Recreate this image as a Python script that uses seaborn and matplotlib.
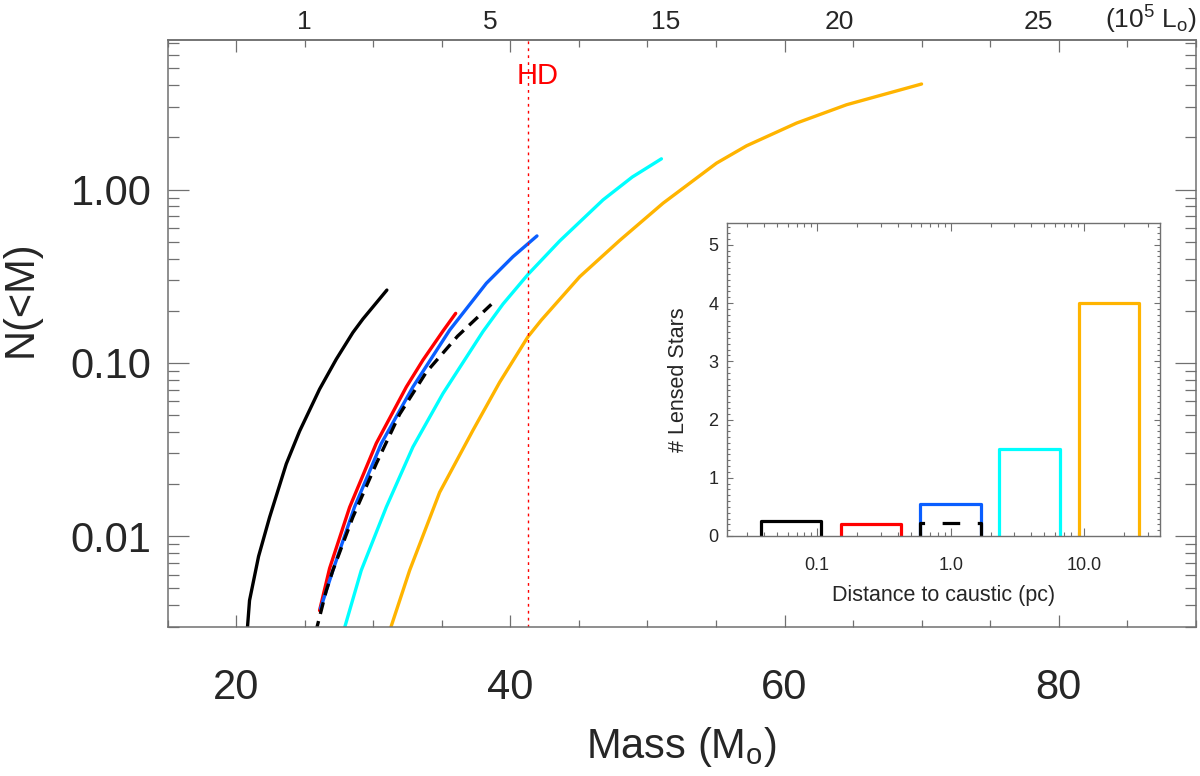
import numpy as np
import pandas as pd
import matplotlib
matplotlib.use("Agg")
import matplotlib.pyplot as plt
from matplotlib.ticker import MultipleLocator, LogLocator, NullFormatter, NullLocator
import seaborn as sns

# cumulative number of stars below a given mass, per model
black_m = [20.79, 20.97, 21.63, 22.43, 23.65, 24.62, 26.08, 27.30, 28.51, 29.24, 30.99]
black_n = [0.00277, 0.00425, 0.00764, 0.01282, 0.0261, 0.0403, 0.0705, 0.1050, 0.1496,
           0.179, 0.263]

red_m = [26.08, 26.81, 28.27, 30.22, 32.41, 33.62, 35.08, 36.01]
red_n = [0.00372, 0.00651, 0.01466, 0.03436, 0.0726, 0.1037, 0.1525, 0.193]

blue_m = [26.15, 27.05, 28.63, 30.58, 32.89, 35.57, 38.25, 40.19, 41.94]
blue_n = [0.00382, 0.00634, 0.01472, 0.0342, 0.0726, 0.1545, 0.288, 0.410, 0.540]

dash_m = [25.79, 26.57, 27.05, 28.51, 30.22, 31.92, 33.87, 36.15, 38.61]
dash_n = [0.00277, 0.00485, 0.00634, 0.01288, 0.02622, 0.0505, 0.0884, 0.1426, 0.2176]

cyan_m = [27.80, 29.12, 30.95, 32.89, 35.08, 38.0, 39.46, 41.28, 43.60, 46.76, 48.89,
          51.02]
cyan_n = [0.00277, 0.00634, 0.01472, 0.03269, 0.0665, 0.1515, 0.2184, 0.3235, 0.5052,
          0.8719, 1.181, 1.505]

orange_m = [31.15, 32.65, 34.84, 37.27, 39.22, 41.28, 42.26, 45.06, 47.98, 51.14,
            55.04, 57.23, 60.88, 64.53, 70.0]
orange_n = [0.00277, 0.00634, 0.01789, 0.0408, 0.0773, 0.1413, 0.1765, 0.3141, 0.5091,
            0.8345, 1.421, 1.789, 2.420, 3.088, 4.067]

hd_mass = 41.3

# luminosity labels on the top axis (10^5 Lsun) and where they sit in mass
lum_pos = [25.0, 38.5, 51.3, 64.0, 78.5]
lum_labels = ["1", "5", "15", "20", "25"]

# inset: lensed stars per distance bin
bin_lo = [0.0377, 0.152, 0.584, 2.31, 9.14]
bin_hi = [0.1067, 0.425, 1.70, 6.59, 25.9]
n_lensed = [0.26, 0.20, 0.55, 1.50, 4.00]
n_lensed_dash = 0.23

C_BLACK = "#000000"
C_RED = "#FF0000"
C_BLUE = "#0A5EFF"
C_CYAN = "#00FFFF"
C_ORANGE = "#FFB400"
C_AXIS = "#707070"

sns.set_theme(style="ticks")
plt.rcParams["font.family"] = ["Liberation Sans", "DejaVu Sans"]
plt.rcParams["mathtext.default"] = "regular"

fig = plt.figure(figsize=(12, 7.76), dpi=100)
ax = fig.add_axes([0.13975, 0.1924, 0.85667, 0.75606])

curves = [
    (black_m, black_n, C_BLACK, "-"),
    (red_m, red_n, C_RED, "-"),
    (blue_m, blue_n, C_BLUE, "-"),
    (dash_m, dash_n, C_BLACK, "--"),
    (cyan_m, cyan_n, C_CYAN, "-"),
    (orange_m, orange_n, C_ORANGE, "-"),
]
for m, n, c, ls in curves:
    df = pd.DataFrame({"mass": m, "n": n})
    line_kw = dict(dashes=(3.6, 2.2)) if ls == "--" else {}
    sns.lineplot(data=df, x="mass", y="n", ax=ax, color=c, linewidth=2.4,
                 sort=False, estimator=None, **line_kw)

ax.set_yscale("log")
ax.set_xlim(15, 90)
ax.set_ylim(0.003, 7.3)

ax.axvline(hd_mass, color=C_RED, linestyle=(0, (2, 3)), linewidth=1.0)
ax.text(42.0, 4.55, "HD", color=C_RED, fontsize=21, ha="center", va="center")

ax.xaxis.set_major_locator(MultipleLocator(20))
ax.xaxis.set_minor_locator(MultipleLocator(5))
ax.set_yticks([0.01, 0.1, 1.0], labels=["0.01", "0.10", "1.00"])
ax.yaxis.set_minor_locator(LogLocator(base=10, subs=np.arange(2, 10)))
ax.yaxis.set_minor_formatter(NullFormatter())

ax.tick_params(axis="x", which="major", direction="in", length=8.6, width=0.9,
               color=C_AXIS, top=True, labelsize=30, pad=29.5)
ax.tick_params(axis="x", which="minor", direction="in", length=5, width=0.9,
               color=C_AXIS, top=True)
ax.tick_params(axis="y", which="major", direction="in", length=15, width=0.9,
               color=C_AXIS, right=True, labelsize=30, pad=11.5)
ax.tick_params(axis="y", which="minor", direction="in", length=8, width=0.9,
               color=C_AXIS, right=True)
for sp in ax.spines.values():
    sp.set_color(C_AXIS)
    sp.set_linewidth(1.1)

ax.set_xlabel("Mass (M$_o$)", fontsize=30)
ax.set_ylabel("N(<M)", fontsize=30)
ax.xaxis.set_label_coords(0.5, -0.168)
ax.yaxis.set_label_coords(-0.124, 0.559)

sec = ax.secondary_xaxis("top")
sec.set_xticks(lum_pos, labels=lum_labels)
sec.xaxis.set_minor_locator(NullLocator())
sec.tick_params(axis="x", length=0, labelsize=19, pad=4.4)
sec.spines["top"].set_color(C_AXIS)
sec.spines["top"].set_linewidth(1.1)
ax.text(86.7, 1.0199, "(10$^5$ L$_o$)", transform=ax.get_xaxis_transform(),
        fontsize=19, ha="center", va="baseline")

# inset histogram
ax_in = fig.add_axes([0.6056, 0.3093, 0.3611, 0.4037])
ax_in.set_facecolor("white")
bar_colors = [C_BLACK, C_RED, C_BLUE, C_CYAN, C_ORANGE]
for lo, hi, h, c in zip(bin_lo, bin_hi, n_lensed, bar_colors):
    step = pd.DataFrame({"d": [lo, lo, hi, hi], "n": [0, h, h, 0]})
    sns.lineplot(data=step, x="d", y="n", ax=ax_in, color=c, linewidth=2.3,
                 sort=False, estimator=None)
step = pd.DataFrame({"d": [bin_lo[2], bin_lo[2], bin_hi[2], bin_hi[2]],
                     "n": [0, n_lensed_dash, n_lensed_dash, 0]})
sns.lineplot(data=step, x="d", y="n", ax=ax_in, color=C_BLACK, linewidth=2.3,
             sort=False, estimator=None, dashes=(5.5, 5.5))

ax_in.set_xscale("log")
ax_in.set_xlim(0.021, 37)
ax_in.set_ylim(0, 5.38)
ax_in.set_xticks([0.1, 1, 10], labels=["0.1", "1.0", "10.0"])
ax_in.xaxis.set_minor_locator(LogLocator(base=10, subs=np.arange(2, 10)))
ax_in.xaxis.set_minor_formatter(NullFormatter())
ax_in.yaxis.set_major_locator(MultipleLocator(1))
ax_in.yaxis.set_minor_locator(MultipleLocator(0.1))
ax_in.tick_params(axis="x", which="major", direction="in", length=5.5, width=0.8,
                  color=C_AXIS, top=True, labelsize=13, pad=14.8)
ax_in.tick_params(axis="x", which="minor", direction="in", length=3, width=0.8,
                  color=C_AXIS, top=True)
ax_in.tick_params(axis="y", which="major", direction="in", length=4, width=0.8,
                  color=C_AXIS, right=True, labelsize=13, pad=6)
ax_in.tick_params(axis="y", which="minor", direction="in", length=2.5, width=0.8,
                  color=C_AXIS, right=True)
for sp in ax_in.spines.values():
    sp.set_color(C_AXIS)
    sp.set_linewidth(1.0)
ax_in.set_xlabel("Distance to caustic (pc)", fontsize=15.5)
ax_in.set_ylabel("# Lensed Stars", fontsize=15.5)
ax_in.xaxis.set_label_coords(0.5, -0.156)
ax_in.yaxis.set_label_coords(-0.086, 0.5)

fig.savefig("out.png", dpi=100)
plt.close(fig)
